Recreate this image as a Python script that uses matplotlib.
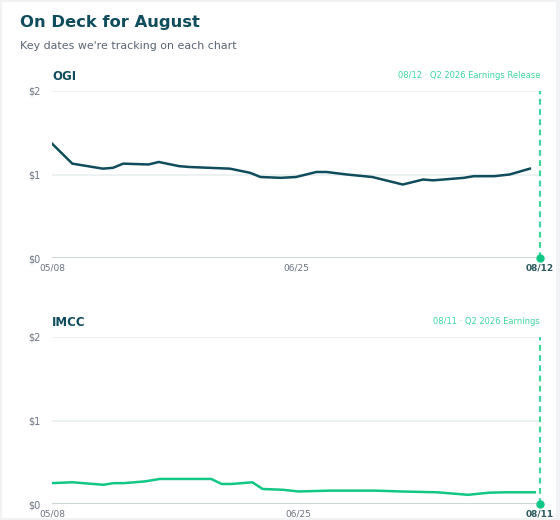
import matplotlib.pyplot as plt
import matplotlib.dates as mdates
import numpy as np
from matplotlib.patches import Rectangle

# OGI closing prices
ogi_dates = ["2026-05-08", "2026-05-12", "2026-05-18", "2026-05-20", "2026-05-22",
             "2026-05-27", "2026-05-29", "2026-06-02", "2026-06-04", "2026-06-08",
             "2026-06-12", "2026-06-16", "2026-06-18", "2026-06-22", "2026-06-25",
             "2026-06-29", "2026-07-01", "2026-07-05", "2026-07-10", "2026-07-16",
             "2026-07-20", "2026-07-22", "2026-07-28", "2026-07-30", "2026-08-03",
             "2026-08-06", "2026-08-10"]
ogi_prices = [1.37, 1.13, 1.07, 1.08, 1.13, 1.12, 1.15, 1.10, 1.09, 1.08,
              1.07, 1.02, 0.97, 0.96, 0.97, 1.03, 1.03, 1.00, 0.97, 0.88,
              0.94, 0.93, 0.96, 0.98, 0.98, 1.00, 1.07]

# IMCC closing prices
imcc_dates = ["2026-05-08", "2026-05-12", "2026-05-18", "2026-05-20", "2026-05-22",
              "2026-05-26", "2026-05-29", "2026-06-02", "2026-06-04", "2026-06-08",
              "2026-06-10", "2026-06-12", "2026-06-16", "2026-06-18", "2026-06-22",
              "2026-06-25", "2026-07-01", "2026-07-10", "2026-07-15", "2026-07-22",
              "2026-07-28", "2026-08-01", "2026-08-04", "2026-08-10"]
imcc_prices = [0.25, 0.26, 0.23, 0.25, 0.25, 0.27, 0.30, 0.30, 0.30, 0.30,
               0.24, 0.24, 0.26, 0.18, 0.17, 0.15, 0.16, 0.16, 0.15, 0.14,
               0.11, 0.135, 0.14, 0.14]

panels = [
    {"name": "OGI", "dates": ogi_dates, "prices": ogi_prices, "color": "#0f4c5c",
     "event": "2026-08-12", "label": "08/12 \u00b7 Q2 2026 Earnings Release"},
    {"name": "IMCC", "dates": imcc_dates, "prices": imcc_prices, "color": "#12c784",
     "event": "2026-08-11", "label": "08/11 \u00b7 Q2 2026 Earnings"},
]
start_date = "2026-05-08"
mid_date = "2026-06-25"
yticks = [0, 1, 2]

dark = "#0f4c5c"
green = "#12c784"
light_green = "#3ed69c"
gray = "#6b7280"

W, H = 560, 520
fig = plt.figure(figsize=(W / 100, H / 100), dpi=100)
fig.patch.set_facecolor("#f1f2f3")
fig.patches.append(Rectangle((2 / W, 2 / H), 554 / W, 516 / H, transform=fig.transFigure,
                             facecolor="white", edgecolor="none", zorder=-10))

fig.text(20 / W, 1 - 22 / H, "On Deck for August", fontsize=11.8, fontweight="bold",
         color=dark, va="center", ha="left")
fig.text(20 / W, 1 - 46 / H, "Key dates we're tracking on each chart", fontsize=7.9,
         color="#5a6472", va="center", ha="left")

tops = [91, 337]
for p, top in zip(panels, tops):
    ax = fig.add_axes([52 / W, 1 - (top + 167) / H, 488 / W, 167 / H])
    ax.set_facecolor("none")
    d = mdates.datestr2num(p["dates"])
    ev = mdates.datestr2num(p["event"])
    st = mdates.datestr2num(start_date)
    ax.plot(d, p["prices"], color=p["color"], lw=1.8, solid_joinstyle="round", zorder=3)
    ax.set_xlim(st, ev)
    ax.set_ylim(0, 2)
    for y in yticks[1:]:
        ax.axhline(y, color="#ecf1f1", lw=1.4, zorder=1)
    ax.axhline(0, color="#cdd6d6", lw=1.5, zorder=1)
    ax.axvline(ev, color=light_green, lw=1.6, ls=(0, (2.6, 2)), clip_on=False, zorder=2)
    ax.plot([ev], [0], "o", color=green, ms=5, clip_on=False, zorder=4)
    for s in ax.spines.values():
        s.set_visible(False)
    ax.set_yticks(yticks)
    ax.set_yticklabels(["$%d" % v for v in yticks], fontsize=7, color=gray)
    ax.tick_params(axis="y", length=0, pad=8)
    ax.set_xticks([st, mdates.datestr2num(mid_date), ev])
    ax.set_xticklabels(["05/08", "06/25", p["event"][5:7] + "/" + p["event"][8:10]],
                       fontsize=6.5, color=gray)
    ax.get_xticklabels()[-1].set_fontweight("bold")
    ax.get_xticklabels()[-1].set_color("#2d5a5f")
    ax.tick_params(axis="x", length=0, pad=4)
    ax.text(0, 1.0 + 15 / 167, p["name"], transform=ax.transAxes, fontsize=8.5,
            fontweight="bold", color=dark, ha="left", va="center")
    ax.text(1, 1.0 + 15 / 167, p["label"], transform=ax.transAxes, fontsize=6,
            color=light_green, ha="right", va="center")

fig.savefig("out.png", dpi=100, facecolor=fig.get_facecolor())
